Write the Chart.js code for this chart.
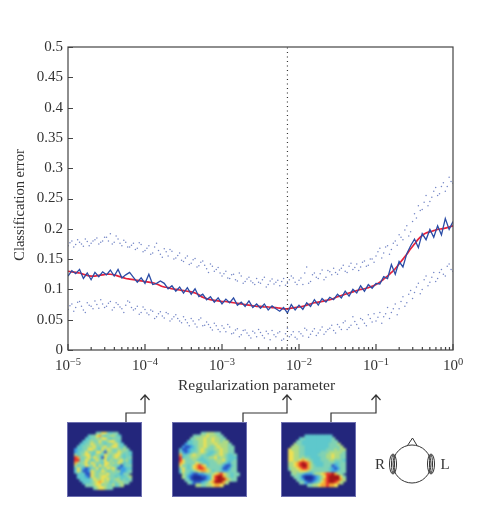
<!DOCTYPE html>
<html>
<head>
<meta charset="utf-8">
<title>Classification error</title>
<script src="https://cdn.jsdelivr.net/npm/chart.js@4"></script>
<style>
  html, body { margin: 0; padding: 0; background: #fff; }
  #wrap { position: relative; width: 478px; height: 509px; overflow: hidden; }
  #main { position: absolute; left: 0; top: 0; }
  .box { position: absolute; top: 423px; width: 73px; height: 73px; background: #23267c; box-shadow: 0 0 0 1px #6d6fb0; }
  .box canvas { filter: blur(1px); }
</style>
</head>
<body>
<div id="wrap">
  <canvas id="main" width="478" height="509"></canvas>
  <div class="box" style="left:68px"><canvas id="map1" width="73" height="73"></canvas></div>
  <div class="box" style="left:173px"><canvas id="map2" width="73" height="73"></canvas></div>
  <div class="box" style="left:282px"><canvas id="map3" width="73" height="73"></canvas></div>
</div>
<script>
// log10 of the regularization parameter
const exponents = [
  -5, -4.95, -4.9, -4.85, -4.8, -4.75, -4.7, -4.65, -4.6, -4.55,
  -4.5, -4.45, -4.4, -4.35, -4.3, -4.25, -4.2, -4.15, -4.1, -4.05,
  -4, -3.95, -3.9, -3.85, -3.8, -3.75, -3.7, -3.65, -3.6, -3.55,
  -3.5, -3.45, -3.4, -3.35, -3.3, -3.25, -3.2, -3.15, -3.1, -3.05,
  -3, -2.95, -2.9, -2.85, -2.8, -2.75, -2.7, -2.65, -2.6, -2.55,
  -2.5, -2.45, -2.4, -2.35, -2.3, -2.25, -2.2, -2.15, -2.1, -2.05,
  -2, -1.95, -1.9, -1.85, -1.8, -1.75, -1.7, -1.65, -1.6, -1.55,
  -1.5, -1.45, -1.4, -1.35, -1.3, -1.25, -1.2, -1.15, -1.1, -1.05,
  -1, -0.95, -0.9, -0.85, -0.8, -0.75, -0.7, -0.65, -0.6, -0.55,
  -0.5, -0.45, -0.4, -0.35, -0.3, -0.25, -0.2, -0.15, -0.1, -0.05, 0
];

const meanError = [
  .122,.131,.126,.133,.118,.127,.116,.128,.121,.129,
  .124,.132,.122,.133,.119,.124,.128,.120,.112,.119,
  .110,.125,.108,.110,.114,.110,.101,.106,.097,.104,
  .094,.103,.092,.101,.088,.092,.083,.088,.079,.086,
  .076,.084,.078,.086,.074,.079,.072,.081,.070,.076,
  .069,.076,.066,.073,.068,.064,.070,.061,.075,.066,
  .074,.067,.078,.072,.083,.074,.085,.079,.087,.083,
  .092,.086,.097,.089,.100,.094,.106,.097,.108,.102,
  .110,.109,.121,.118,.141,.125,.146,.137,.159,.172,
  .183,.169,.192,.182,.199,.186,.205,.190,.217,.199,.212
];

const smoothError = [
  .130,.129,.128,.127,.125,.123,.122,.122,.123,.124,
  .125,.125,.124,.122,.120,.118,.117,.116,.115,.114,
  .113,.112,.111,.109,.106,.104,.103,.101,.100,.099,
  .098,.097,.096,.094,.091,.087,.085,.083,.082,.081,
  .080,.080,.079,.078,.077,.076,.075,.074,.073,.072,
  .072,.071,.071,.070,.070,.069,.068,.068,.069,.070,
  .071,.072,.074,.076,.078,.079,.080,.082,.083,.085,
  .088,.090,.092,.094,.096,.098,.100,.101,.103,.105,
  .108,.112,.117,.122,.128,.134,.142,.150,.158,.167,
  .175,.183,.189,.193,.195,.197,.199,.200,.201,.203,.205
];

const upperError = [
  .172,.180,.174,.178,.171,.179,.176,.182,.175,.180,
  .186,.192,.178,.183,.172,.178,.170,.176,.168,.174,
  .164,.172,.160,.176,.158,.167,.155,.163,.152,.160,
  .146,.155,.143,.151,.139,.147,.134,.142,.130,.136,
  .122,.130,.118,.125,.114,.122,.113,.120,.111,.118,
  .110,.120,.108,.117,.112,.106,.118,.110,.122,.112,
  .115,.108,.137,.113,.127,.118,.132,.120,.129,.135,
  .125,.135,.130,.138,.133,.142,.137,.147,.140,.150,
  .155,.168,.160,.172,.166,.180,.190,.182,.205,.195,
  .225,.238,.232,.255,.245,.262,.255,.270,.262,.285,.275
];

// second row of dots, half a step to the right of the first
const upperErrorMid = [
  .177,.170,.182,.175,.183,.172,.180,.185,.178,.186,
  .180,.175,.188,.176,.181,.170,.173,.166,.177,.162,
  .168,.158,.170,.164,.153,.162,.166,.150,.156,.148,
  .152,.141,.149,.137,.145,.140,.128,.138,.133,.127,
  .126,.119,.124,.116,.127,.110,.117,.114,.108,.112,
  .116,.104,.114,.109,.115,.113,.107,.116,.119,.108,
  .119,.127,.110,.124,.120,.126,.116,.131,.124,.128,
  .132,.140,.128,.143,.136,.131,.145,.138,.150,.145,
  .162,.152,.170,.158,.176,.173,.186,.198,.188,.212,
  .218,.230,.244,.238,.252,.268,.258,.276,.270,.278
];

const lowerError = [
  .067,.076,.070,.080,.066,.078,.072,.081,.069,.076,
  .072,.080,.070,.075,.068,.074,.079,.066,.072,.062,
  .067,.058,.064,.055,.063,.053,.060,.051,.058,.048,
  .055,.045,.052,.043,.050,.040,.046,.037,.044,.034,
  .040,.030,.038,.028,.035,.025,.033,.024,.031,.022,
  .029,.020,.027,.032,.022,.030,.018,.036,.025,.021,
  .030,.023,.033,.026,.035,.028,.038,.030,.036,.032,
  .042,.034,.048,.037,.055,.042,.052,.044,.058,.046,
  .048,.062,.055,.070,.062,.076,.068,.088,.078,.098,
  .095,.110,.100,.122,.112,.128,.118,.133,.122,.142,.130
];

const lowerErrorMid = [
  .073,.064,.079,.072,.062,.074,.068,.075,.083,.070,
  .077,.066,.078,.071,.062,.081,.070,.068,.059,.071,
  .061,.066,.052,.060,.056,.062,.048,.055,.052,.045,
  .050,.040,.048,.038,.053,.041,.042,.033,.040,.030,
  .036,.042,.027,.033,.022,.032,.028,.020,.028,.034,
  .024,.031,.017,.025,.028,.016,.027,.022,.030,.018,
  .027,.036,.021,.031,.024,.033,.026,.034,.041,.028,
  .038,.045,.034,.041,.047,.036,.050,.040,.052,.060,
  .054,.044,.060,.052,.068,.058,.080,.072,.092,.085,
  .104,.093,.116,.106,.120,.113,.128,.125,.138,.133
];

const yTicks = [0, 0.05, 0.1, 0.15, 0.2, 0.25, 0.3, 0.35, 0.4, 0.45, 0.5];
const xTickExponents = [-5, -4, -3, -2, -1, 0];
const minorFactors = [2, 3, 4, 5, 6, 7, 8, 9];
const bestExponent = -2.15;
const arrowExponents = [-4, -2.15, -1];
const arrowStartX = [126, 243, 331];

// head maps, one digit per cell (0 deep blue .. 9 dark red), '.' outside the head
const map1Rows = [
  "", "",
  ".........44664344",
  "......344674345543",
  ".....3344546643444",
  "....33454464456643",
  "...3344654543445643",
  "..334455644564566434",
  ".23344665436465445454",
  ".234464436641554465443",
  ".534566345436545664343",
  ".874456465416445654344",
  ".884465346446354456453",
  ".754563654436645465343",
  ".534465463646554431344",
  ".364212446354656412233",
  ".364112654465345452234",
  "..3331165455564443244",
  "..33321654566544343345",
  "...3333465565644553434",
  "....33345676553445544",
  ".....44456645445345",
  "........4566544"
];
const map2Rows = [
  "", "",
  ".........4455544",
  "......44455655544",
  ".....4455565565544",
  "....334455655655455",
  "...23344556555655554",
  "..2112345565445655544",
  ".31123345654445565544",
  ".42123445654334565544",
  ".733456554433455654334",
  ".834455543445564554333",
  ".864445433344455564334",
  ".764444654334445543244",
  ".644346787634444421134",
  ".464346788754444311244",
  ".364434567765344322344",
  "..543211223445678654344",
  "..54210001123689975434",
  "...4310000123689997544",
  "....431112346799975",
  ".......5544556776"
];
const map3Rows = [
  "", "", "",
  ".......3333333333",
  ".....3433333333334",
  "....443333333333344",
  "...54433333333334445",
  "..5554433333333344445",
  ".655544333333334445455",
  ".665544333333444555554",
  ".665544333334445565544",
  ".665545443333445565544",
  ".665567654333444554443",
  ".556789875333344443344",
  ".556789975433344412344",
  ".455678875444444321244",
  "..55566654444444322344",
  "..4544322245567889754",
  "...4431000123568999964",
  "....432000123578999975",
  ".....4421123467899875",
  "........44556778776"
];
const mapColors = ['#1c2f9c', '#2a55c4', '#3d9ee4', '#5ec8cc', '#80d2b4', '#aeda84', '#efe052', '#f5a332', '#e4322a', '#a51518'];

const ink = '#333';
const serif = '"Liberation Serif", serif';

const xs = exponents.map(e => Math.pow(10, e));
function toPoints(values) {
  return values.map((v, i) => ({ x: xs[i], y: v }));
}
function toMidPoints(values) {
  return values.map((v, i) => ({ x: Math.sqrt(xs[i] * xs[i + 1]), y: v }));
}

const extras = {
  id: 'extras',
  afterDraw(chart) {
    const c = chart.ctx, a = chart.chartArea, sx = chart.scales.x, sy = chart.scales.y;
    c.save();

    // frame
    c.strokeStyle = '#444';
    c.lineWidth = 1.2;
    c.strokeRect(a.left, a.top, a.right - a.left, a.bottom - a.top);

    // inward ticks
    c.beginPath();
    yTicks.forEach(v => {
      const y = Math.round(sy.getPixelForValue(v)) + 0.5;
      c.moveTo(a.left, y);
      c.lineTo(a.left + 5, y);
    });
    xTickExponents.forEach(e => {
      const x = sx.getPixelForValue(Math.pow(10, e));
      c.moveTo(x, a.bottom);
      c.lineTo(x, a.bottom - 6);
      if (e < 0) {
        minorFactors.forEach(f => {
          const mx = sx.getPixelForValue(f * Math.pow(10, e));
          c.moveTo(mx, a.bottom);
          c.lineTo(mx, a.bottom - 3);
        });
      }
    });
    c.stroke();

    // 10^n labels
    c.fillStyle = ink;
    c.textBaseline = 'alphabetic';
    xTickExponents.forEach(e => {
      const x = sx.getPixelForValue(Math.pow(10, e));
      const sup = e < 0 ? '\u2212' + Math.abs(e) : String(e);
      c.font = '15px ' + serif;
      const w10 = c.measureText('10').width;
      c.font = '10.5px ' + serif;
      const wSup = c.measureText(sup).width;
      const left = x - (w10 + wSup) / 2;
      c.font = '15px ' + serif;
      c.textAlign = 'left';
      c.fillText('10', left, 370);
      c.font = '10.5px ' + serif;
      c.fillText(sup, left + w10, 365);
    });

    // axis titles
    c.font = '15.5px ' + serif;
    c.textAlign = 'center';
    c.fillText('Regularization parameter', 256.5, 390);
    c.save();
    c.translate(24, 205);
    c.rotate(-Math.PI / 2);
    c.font = '14.5px ' + serif;
    c.fillText('Classification error', 0, 0);
    c.restore();

    // arrows from the head maps up to the axis
    c.strokeStyle = '#333';
    c.lineWidth = 1.2;
    arrowExponents.forEach((e, i) => {
      const tip = Math.round(sx.getPixelForValue(Math.pow(10, e)));
      c.beginPath();
      c.moveTo(arrowStartX[i], 423);
      c.lineTo(arrowStartX[i], 413);
      c.lineTo(tip, 413);
      c.lineTo(tip, 395);
      c.moveTo(tip - 4.5, 400);
      c.lineTo(tip, 395);
      c.lineTo(tip + 4.5, 400);
      c.stroke();
    });

    // head sketch
    c.lineWidth = 1;
    c.beginPath();
    c.arc(412, 464, 19, 0, Math.PI * 2);
    c.stroke();
    c.beginPath();
    c.moveTo(407.5, 445.5);
    c.lineTo(412.5, 438);
    c.lineTo(417, 445.5);
    c.stroke();
    [393, 431].forEach(x => {
      c.beginPath();
      c.ellipse(x, 464, 3.5, 10, 0, 0, Math.PI * 2);
      c.stroke();
      c.beginPath();
      c.ellipse(x, 464, 1.5, 9, 0, 0, Math.PI * 2);
      c.stroke();
    });
    c.fillStyle = ink;
    c.font = '15px ' + serif;
    c.textAlign = 'center';
    c.fillText('R', 380, 469);
    c.fillText('L', 445, 469);

    c.restore();
  }
};

const dotStyle = { showLine: false, pointRadius: 0.75, pointBorderWidth: 0, pointBackgroundColor: '#7587c6' };

new Chart(document.getElementById('main'), {
  type: 'line',
  data: {
    datasets: [
      { data: [{ x: Math.pow(10, bestExponent), y: 0 }, { x: Math.pow(10, bestExponent), y: 0.5 }], borderColor: '#333', borderWidth: 1.2, borderDash: [1, 3.5], pointRadius: 0 },
      { data: toPoints(upperError), ...dotStyle },
      { data: toMidPoints(upperErrorMid), ...dotStyle },
      { data: toPoints(lowerError), ...dotStyle },
      { data: toMidPoints(lowerErrorMid), ...dotStyle },
      { data: toPoints(meanError), borderColor: '#2a4ca6', borderWidth: 1.3, pointRadius: 0, tension: 0 },
      { data: toPoints(smoothError), borderColor: '#e6223c', borderWidth: 1.7, pointRadius: 0, tension: 0.3 }
    ]
  },
  options: {
    responsive: false,
    animation: false,
    devicePixelRatio: 1,
    layout: { padding: { left: 0, top: 47, right: 25, bottom: 114 } },
    plugins: { legend: { display: false }, tooltip: { enabled: false } },
    scales: {
      x: {
        type: 'logarithmic',
        min: 1e-5,
        max: 1,
        grid: { display: false },
        border: { display: false },
        ticks: { display: false },
        afterFit(s) { s.height = 45; }
      },
      y: {
        min: 0,
        max: 0.5,
        grid: { display: false, tickLength: 0 },
        border: { display: false },
        afterBuildTicks(s) { s.ticks = yTicks.map(v => ({ value: v })); },
        ticks: { color: ink, font: { family: serif, size: 15 }, padding: 5, callback: v => String(v) },
        afterFit(s) { s.width = 68; }
      }
    }
  },
  plugins: [extras]
});

function drawMap(id, rows) {
  const cells = [];
  rows.forEach((row, r) => {
    row.split('').forEach((ch, col) => {
      if (ch !== '.') cells.push({ x: col, y: r, v: Number(ch) });
    });
  });
  new Chart(document.getElementById(id), {
    type: 'scatter',
    data: {
      datasets: [{
        data: cells,
        pointStyle: 'rect',
        pointRadius: 2.7,
        borderWidth: 0,
        backgroundColor: ctx => mapColors[ctx.raw.v]
      }]
    },
    options: {
      responsive: false,
      animation: false,
      devicePixelRatio: 1,
      layout: { padding: 0 },
      plugins: { legend: { display: false }, tooltip: { enabled: false } },
      scales: {
        x: { display: false, min: -0.5, max: 23.5 },
        y: { display: false, min: -0.5, max: 23.5, reverse: true }
      }
    }
  });
}

drawMap('map1', map1Rows);
drawMap('map2', map2Rows);
drawMap('map3', map3Rows);
</script>
</body>
</html>
